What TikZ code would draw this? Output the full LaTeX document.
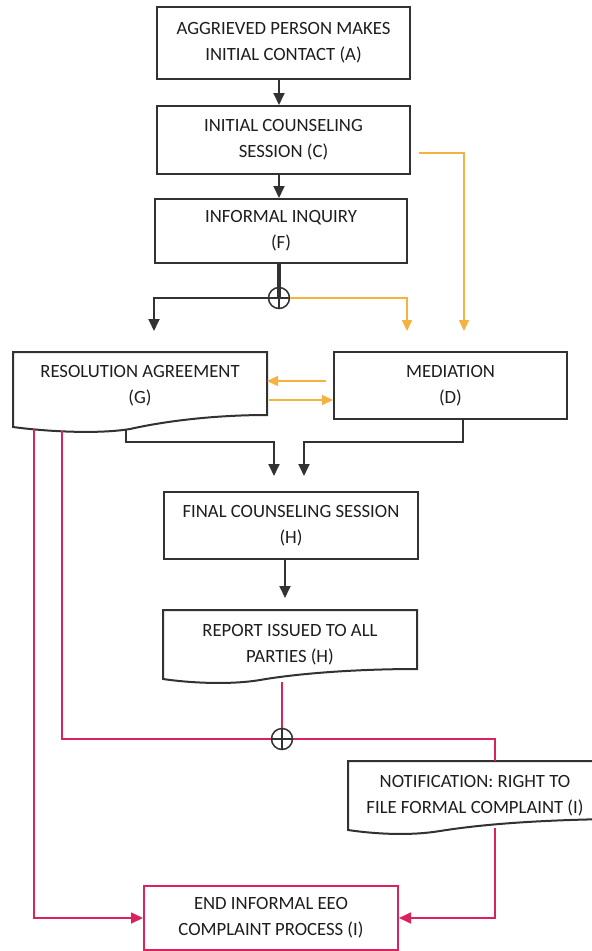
\documentclass[tikz,border=0pt]{standalone}
\usepackage{fontspec}
\setmainfont{Carlito}
\usetikzlibrary{arrows.meta,calc}
\definecolor{boxc}{RGB}{50,50,50}
\definecolor{txtc}{RGB}{30,30,30}
\definecolor{orng}{RGB}{245,178,62}
\definecolor{pnk}{RGB}{218,34,92}
\begin{document}
\begin{tikzpicture}[x=1pt,y=-1pt,
  tfont/.style={font=\fontsize{18.7}{26}\selectfont, text=txtc},
  box/.style={draw=boxc, line width=2pt, rectangle, inner sep=0pt, align=center, tfont},
  txt/.style={inner sep=0pt, align=center, tfont},
  shp/.style={draw=boxc, line width=2pt, line join=miter},
  blk/.style={draw=boxc, line width=1.8pt},
  blkarr/.style={blk, -{Triangle[width=11pt,length=12pt]}},
  org/.style={draw=orng, line width=1.5pt},
  orgarr/.style={org, -{Triangle[width=10pt,length=11pt]}},
  pk/.style={draw=pnk, line width=1.7pt},
  pkarr/.style={pk, -{Triangle[width=11pt,length=12pt]}},
  junc/.style={draw=boxc, line width=1.5pt, circle, minimum size=21pt, inner sep=0pt}
]
\useasboundingbox (0,0) rectangle (592,951);
\fill[white] (0,0) rectangle (592,951);
\clip (0,0) rectangle (592,951);

% main boxes
\node[box, minimum width=253, minimum height=72] (A) at (283.5,43) {AGGRIEVED PERSON MAKES\\INITIAL CONTACT (A)};
\node[box, minimum width=253, minimum height=68] (C) at (283.5,140) {INITIAL COUNSELING\\SESSION (C)};
\node[box, minimum width=252, minimum height=64] (F) at (281,231) {INFORMAL INQUIRY\\(F)};
\node[box, minimum width=233, minimum height=67] (D) at (450.5,385.5) {MEDIATION\\(D)};
\node[box, minimum width=254, minimum height=67] (H) at (291,525.5) {FINAL COUNSELING SESSION\\(H)};
\node[box, draw=pnk, minimum width=254, minimum height=64] (E) at (271,918) {END INFORMAL EEO\\COMPLAINT PROCESS (I)};

% document shapes
\draw[shp] (13,352) -- (267,352) -- (267,415) .. controls (220,415) and (170,420) .. (130,429) .. controls (100,434) and (50,432) .. (13,427) -- cycle;
\node[txt] (G) at (140,386) {RESOLUTION AGREEMENT\\(G)};
\draw[shp] (163,610) -- (417,610) -- (417,669) .. controls (360,669) and (300,673) .. (260,680) .. controls (230,685) and (190,683) .. (163,679) -- cycle;
\node[txt] (R) at (290,644.5) {REPORT ISSUED TO ALL\\PARTIES (H)};
\draw[shp] (610,761) -- (348,761) -- (348,830) .. controls (375,834) and (410,836) .. (440,831) .. controls (490,823) and (550,820) .. (610,819);
\node[txt] (N) at (475,795.5) {NOTIFICATION: RIGHT TO\\FILE FORMAL COMPLAINT (I)};

% coordinates
\coordinate (J1c) at (279,298);
\coordinate (gl) at (154,331);
\coordinate (dl) at (407,331);
\coordinate (dr) at (464,331);
\coordinate (cs) at (419,153);
\coordinate (do1) at (326,381);
\coordinate (ge1) at (267,381);
\coordinate (ge2) at (269,400);
\coordinate (gb) at (126,430);
\coordinate (hl) at (274,476);
\coordinate (hr) at (304,476);
\coordinate (rt) at (285,598);
\coordinate (rb) at (282,682);
\coordinate (J2c) at (282,739);
\coordinate (gp1) at (34,429);
\coordinate (gp2) at (62,431);
\coordinate (ntop) at (495,761);
\coordinate (nbot) at (495,828);

% top chain
\draw[blkarr] (A.south -| J1c) -- (C.north -| J1c);
\draw[blkarr] (C.south -| J1c) -- (F.north -| J1c);
\draw[draw=boxc, line width=3.5pt] (F.south -| J1c) -- (J1c);
\node[junc] (J1) at (J1c) {};
\draw[blk] (J1.south) -- (J1c);
\draw[blkarr] (J1.east) -- (J1.west) -| (gl);
\draw[orgarr] (J1.east) -| (dl);
\draw[orgarr] (cs) -| (dr);

% G <-> D
\draw[orgarr] (do1) -- (ge1);
\draw[orgarr] (ge2) -- (D.west |- ge2);

% to H
\draw[blkarr] (gb) -- ++(0,12) -| (hl);
\draw[blkarr] ([xshift=12.5pt]D.south) -- ++(0,22) -| (hr);
\draw[blkarr] (H.south -| rt) -- (rt);

% pink
\draw[pk] (rb) -- (J2c);
\draw[pk] (gp2) |- (J2c) -| (ntop);
\node[junc] (J2) at (J2c) {};
\draw[draw=boxc, line width=1.3pt] (J2.north) -- (J2.south) (J2.west) -- (J2.east);
\draw[pkarr] (nbot) |- (E.east);
\draw[pkarr] (gp1) |- (E.west);
\end{tikzpicture}
\end{document}
